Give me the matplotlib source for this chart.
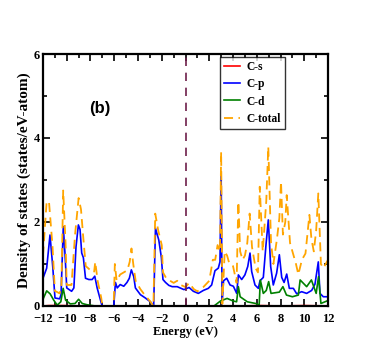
import matplotlib
matplotlib.use("Agg")
import matplotlib.pyplot as plt
from matplotlib.ticker import MultipleLocator

# C-p
e_p = [-12, -11.69, -11.41, -11.18, -10.99, -10.6, -10.48, -10.29, -10.15, -10.0, -9.59, -9.4,
       -9.22, -9.02, -8.88, -8.74, -8.6, -8.42, -8.14, -7.86, -7.64, -7.44, -7.16, -7.02,
       -6.04, -5.9, -5.75, -5.5, -5.2, -4.93, -4.73, -4.56, -4.36, -4.22, -3.8, -3.38, -2.96,
       -2.68, -2.53, -2.25, -2.03, -1.9, -1.68, -1.4, -1.12, -0.7, -0.46, -0.13, 0.3, 0.66,
       1.08, 1.5, 1.92, 2.2, 2.48, 2.76, 2.9, 3.0, 3.08, 3.2, 3.47, 3.75, 4.03, 4.31, 4.45,
       4.73, 5.0, 5.24, 5.43, 5.57, 5.85, 6.13, 6.27, 6.55, 6.78, 6.97, 7.17, 7.39, 7.67,
       7.9, 8.1, 8.3, 8.52, 8.74, 9.08, 9.36, 9.78, 10.2, 10.62, 10.9, 11.18, 11.32, 11.6, 12]
dos_p = [0.66, 0.9, 1.69, 0.94, 0.19, 0.17, 0.27, 1.89, 1.26, 0.43, 0.35, 0.43,
         1.41, 1.93, 1.82, 1.26, 1.15, 0.66, 0.63, 0.63, 0.71, 0.43, 0.14, 0.0,
         0.0, 0.56, 0.43, 0.51, 0.47, 0.56, 0.66, 0.86, 0.7, 0.43, 0.27, 0.19, 0.1,
         0.0, 1.85, 1.57, 1.15, 0.63, 0.56, 0.49, 0.46, 0.46, 0.43, 0.39, 0.44, 0.35,
         0.3, 0.37, 0.42, 0.5, 0.84, 0.9, 1.05, 3.17, 0.05, 0.6, 0.66, 0.5, 0.47, 0.3, 0.74,
         0.63, 0.74, 0.94, 1.26, 0.82, 0.5, 0.42, 0.6, 0.68, 1.47, 2.05, 0.94, 0.5, 0.78,
         1.22, 0.68, 0.56, 0.76, 0.42, 0.42, 0.29, 0.34, 0.3, 0.37, 0.52, 1.05, 0.3, 0.22, 0.22]

# C-d
e_d = [-12, -11.69, -11.4, -11.1, -10.8, -10.5, -10.3, -10.1, -9.7, -9.3, -9.0, -8.7, -8.3,
       -7.6, -7.0, 2.4, 2.95, 3.5, 4.0, 4.3, 4.45, 4.6, 5.2, 5.9, 6.2, 6.3, 6.55, 6.8, 7.0,
       7.2, 7.9, 8.2, 8.5, 9.0, 9.5, 9.65, 10.2, 10.6, 11.0, 11.2, 11.4, 12]
dos_d = [0.16, 0.36, 0.29, 0.14, 0.02, 0.1, 0.42, 0.14, 0.05, 0.06, 0.16, 0.06, 0.03,
         0.0, 0.0, 0.0, 0.12, 0.18, 0.12, 0.1, 0.46, 0.22, 0.1, 0.06, 0.02, 0.62, 0.3, 0.37, 0.58,
         0.3, 0.33, 0.46, 0.26, 0.22, 0.26, 0.62, 0.46, 0.62, 0.3, 0.7, 0.06, 0.13]

# C-s (almost nothing, hidden under the axis)
e_s = [-12, -11.5, -10.3, -9.0, -7.0, 2.4, 4.5, 6.3, 8.0, 10.0, 12]
dos_s = [0.0, 0.01, 0.01, 0.0, 0.0, 0.0, 0.0, 0.01, 0.0, 0.01, 0.0]

# C-total
e_tot = [-12, -11.7, -11.5, -11.2, -11.0, -10.6, -10.45, -10.3, -10.1, -10.0, -9.6, -9.3,
         -9.0, -8.8, -8.6, -8.4, -8.0, -7.7, -7.6, -7.4, -7.1, -7.0, -6.05, -5.95, -5.8, -5.5,
         -5.2, -4.9, -4.7, -4.55, -4.4, -4.2, -3.8, -3.4, -3.0, -2.7, -2.55, -2.3, -2.0, -1.9,
         -1.6, -1.3, -1.0, -0.7, -0.4, 0.0, 0.3, 0.7, 1.0, 1.5, 2.0, 2.3, 2.5, 2.7, 2.9, 3.0,
         3.1, 3.3, 3.5, 3.7, 4.0, 4.3, 4.45, 4.6, 4.8, 5.0, 5.2, 5.4, 5.6, 5.9, 6.1, 6.25, 6.5,
         6.8, 6.97, 7.2, 7.4, 7.7, 7.9, 8.04, 8.2, 8.4, 8.52, 8.8, 9.0, 9.3, 9.5, 9.8, 10.1,
         10.43, 10.6, 10.8, 11.0, 11.18, 11.4, 11.6, 12]
dos_tot = [1.2, 2.45, 2.5, 1.43, 0.36, 0.3, 0.45, 2.75, 1.5, 0.5, 0.5, 1.7,
           2.57, 2.3, 1.6, 0.95, 0.85, 0.8, 1.05, 0.6, 0.2, 0.0, 0.0, 1.0, 0.6, 0.75,
           0.8, 0.85, 1.05, 1.37, 1.0, 0.6, 0.4, 0.25, 0.12, 0.0, 2.2, 1.8, 1.45, 0.8,
           0.65, 0.6, 0.55, 0.6, 0.5, 0.45, 0.55, 0.4, 0.35, 0.45, 0.6, 1.1, 1.1, 1.45, 1.3, 3.67,
           0.05, 1.3, 1.2, 1.0, 0.95, 0.55, 2.48, 1.3, 1.1, 1.2, 1.5, 2.2, 1.4, 0.9, 0.8, 2.84, 1.3,
           2.5, 3.79, 1.5, 1.0, 1.6, 2.09, 2.96, 1.7, 2.0, 2.64, 1.5, 1.3, 1.0, 0.75, 1.1, 1.25,
           2.17, 1.6, 1.3, 1.8, 2.68, 1.0, 0.9, 1.1]

fig = plt.figure(figsize=(3.69, 3.61), dpi=100)
ax = fig.add_axes([0.1165, 0.1524, 0.7725, 0.698])

ax.plot(e_s, dos_s, color="red", lw=1.2, label="C-s")
ax.plot(e_p, dos_p, color="blue", lw=1.2, label="C-p")
ax.plot(e_d, dos_d, color="green", lw=1.2, label="C-d")
ax.plot(e_tot, dos_tot, color="orange", lw=1.3, dashes=(5, 3), label="C-total")
ax.axvline(0, color="#6e1f4a", lw=1.2, dashes=(5, 4))

ax.set_xlim(-12, 12)
ax.set_ylim(0, 6)
ax.xaxis.set_major_locator(MultipleLocator(2))
ax.xaxis.set_minor_locator(MultipleLocator(1))
ax.yaxis.set_major_locator(MultipleLocator(2))
ax.yaxis.set_minor_locator(MultipleLocator(1))
ax.tick_params(which="both", direction="in", top=True, right=True, width=1.2)
ax.tick_params(axis="x", pad=5)
ax.tick_params(axis="y", pad=2)
ax.tick_params(which="major", length=5)
ax.tick_params(which="minor", length=3)
for s in ax.spines.values():
    s.set_linewidth(1.6)

for lab in ax.get_xticklabels() + ax.get_yticklabels():
    lab.set_fontproperties("Liberation Serif")
    lab.set_fontweight("bold")
    lab.set_fontsize(9)
ax.set_xlabel("Energy (eV)", family="Liberation Serif", weight="bold", size=9, labelpad=1)
ax.set_ylabel("Density of states (states/eV-atom)", family="Liberation Serif",
              weight="bold", size=11, labelpad=2)

ax.text(-7.2, 4.71, "(b)", ha="center", va="center", fontsize=12,
        fontweight="bold", family="Liberation Sans")

leg = ax.legend(loc="upper left", bbox_to_anchor=(0.62, 0.99), frameon=True, fancybox=False,
                prop={"family": "Liberation Serif", "weight": "bold", "size": 8.3},
                handlelength=1.4, handletextpad=0.5, borderpad=0.4, labelspacing=0.45,
                borderaxespad=0)
leg.get_frame().set_edgecolor("black")
leg.get_frame().set_linewidth(1.0)

fig.savefig("out.png", dpi=100)
